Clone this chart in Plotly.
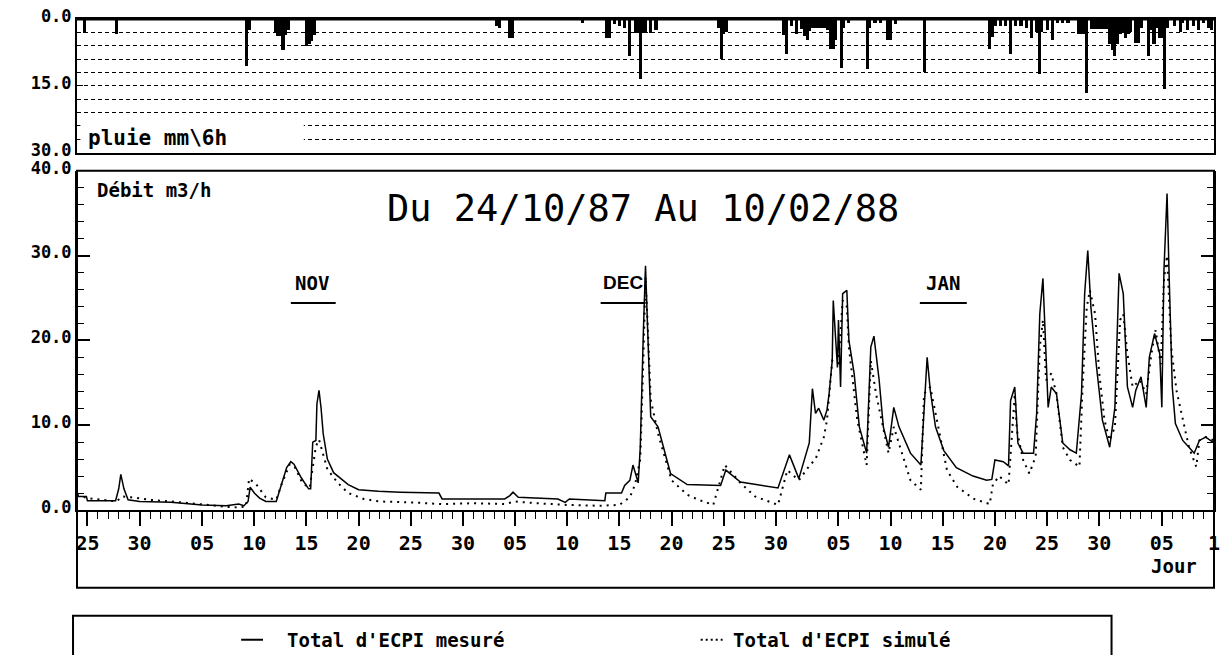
import plotly.graph_objects as go

# time axis: days since 24/10/87 00h
tick_days = [1, 6, 12, 17, 22, 27, 32, 37, 42, 47, 52, 57, 62, 67, 73, 78, 83, 88, 93, 98, 104, 109]
tick_text = ["25", "30", "05", "10", "15", "20", "25", "30", "05", "10", "15",
             "20", "25", "30", "05", "10", "15", "20", "25", "30", "05", "1"]

# rain, mm per 6h
rain_day = [0.75, 3.75, 16.25, 16.5, 19.0, 19.25, 19.5, 19.75, 20.0, 20.25, 22.0, 22.25, 22.5, 22.75,
            40.25, 40.5, 41.5, 41.75, 48.5, 50.75, 51.0, 51.5, 52.0, 52.5, 53.0, 53.5, 53.75, 54.0,
            54.25, 54.5, 55.0, 55.5, 61.5, 61.75, 62.0, 62.25, 67.75, 68.0, 68.5, 69.0, 69.5, 69.75,
            70.0, 70.25, 70.5, 70.75, 71.0, 71.25, 71.5, 71.75, 72.0, 72.25, 72.5, 72.75, 73.25, 73.5,
            74.0, 75.75, 76.0, 76.5, 77.0, 77.75, 78.0, 78.5, 81.25, 87.5, 87.75, 88.0, 88.5, 89.0,
            89.5, 90.0, 90.5, 91.0, 91.5, 92.0, 92.25, 92.5, 93.0, 93.5, 94.0, 94.5, 95.0, 96.0,
            96.25, 96.5, 96.75, 97.25, 97.5, 97.75, 98.0, 98.25, 98.5, 98.75, 99.0, 99.25, 99.5,
            99.75, 100.0, 100.25, 100.5, 100.75, 101.0, 101.5, 101.75, 102.0, 102.75, 103.0, 103.25,
            103.5, 103.75, 104.0, 104.25, 104.5, 105.25, 105.75, 106.0, 106.5, 107.0, 107.5, 108.0,
            108.5, 108.75]
rain_mm = [3.2, 3.4, 10.5, 2.5, 3.0, 3.8, 3.8, 7.0, 3.5, 2.5, 6.0, 5.5, 5.0, 3.5,
           1.5, 2.0, 4.2, 4.2, 0.8, 4.2, 4.2, 1.2, 1.5, 2.0, 8.3, 3.1, 3.1, 13.4,
           3.1, 3.1, 3.1, 2.5, 2.0, 9.0, 3.4, 3.0, 3.5, 7.9, 1.6, 3.4, 2.3, 3.8,
           4.6, 2.7, 2.0, 2.0, 2.0, 2.0, 2.0, 2.0, 2.5, 6.8, 6.8, 4.6, 10.9, 2.0,
           1.0, 11.2, 2.0, 1.0, 1.0, 4.6, 4.6, 1.2, 12.0, 6.8, 4.0, 1.5, 1.5, 1.5,
           7.9, 1.5, 1.5, 2.0, 4.2, 3.0, 12.4, 3.0, 2.5, 4.6, 1.0, 1.0, 1.0, 3.4,
           3.4, 3.4, 16.5, 2.2, 2.2, 2.2, 2.2, 2.2, 2.2, 2.2, 5.6, 7.0, 8.3,
           5.6, 3.4, 3.0, 4.2, 3.4, 3.0, 5.3, 5.3, 2.0, 8.3, 2.5, 5.6,
           2.0, 4.2, 4.2, 15.8, 2.0, 1.5, 3.0, 1.0, 2.5, 1.5, 2.5, 1.0,
           2.0, 2.5]

# measured flow m3/h
measured_day = [0, 0.9, 1.0, 3.7, 4.0, 4.2, 4.5, 4.9, 6.0, 9.0, 12.0, 14.3, 15.5, 16.0, 16.4, 16.6,
                17.0, 17.5, 18.1, 19.1, 19.6, 20.1, 20.5, 20.8, 21.5, 22.2, 22.4, 22.6, 22.9, 23.0,
                23.2, 23.4, 23.6, 24.0, 24.6, 25.2, 26.0, 27.0, 28.9, 31.0, 34.7, 35.0, 38.0, 41.0,
                41.5, 41.8, 42.3, 46.1, 46.8, 47.2, 50.6, 50.7, 52.2, 52.5, 53.0, 53.3, 53.8, 54.0,
                54.3, 54.5, 54.7, 55.0, 55.7, 56.9, 58.5, 61.7, 62.2, 63.6, 67.2, 68.3, 69.2, 70.2,
                70.5, 70.8, 71.1, 71.6, 71.9, 72.1, 72.4, 72.5, 72.9, 73.0, 73.2, 73.4, 73.8, 74.0,
                74.5, 75.0, 75.7, 76.1, 76.4, 76.9, 77.3, 77.8, 78.3, 78.8, 79.9, 80.9, 81.5, 81.8,
                82.3, 83.1, 84.3, 85.9, 87.2, 87.7, 88.0, 88.8, 89.3, 89.5, 89.9, 90.2, 90.7, 91.7,
                92.0, 92.3, 92.6, 92.9, 93.1, 93.4, 93.9, 94.5, 95.2, 95.8, 96.3, 96.6, 96.9, 97.2,
                97.7, 98.3, 99.0, 99.5, 99.9, 100.3, 100.7, 101.2, 101.5, 102.0, 102.5, 102.8, 103.3,
                103.8, 104.0, 104.2, 104.5, 104.7, 105.0, 105.3, 106.0, 106.6, 107.1, 107.6, 108.2, 109.0]
measured_flow = [1.6, 1.6, 1.1, 1.1, 2.5, 4.2, 2.5, 1.2, 1.0, 0.9, 0.6, 0.5, 0.7, 0.5, 1.0, 2.7,
                 2.0, 1.4, 1.0, 1.0, 3.0, 5.0, 5.7, 5.4, 3.8, 2.5, 2.5, 8.0, 8.2, 12.5,
                 14.1, 12.0, 9.0, 6.0, 4.4, 3.8, 3.0, 2.4, 2.2, 2.1, 2.0, 1.3, 1.3, 1.3,
                 1.7, 2.1, 1.5, 1.3, 0.9, 1.3, 1.1, 2.0, 2.0, 2.9, 3.5, 5.3, 3.2, 7.4,
                 21.2, 28.8, 21.5, 11.0, 9.8, 4.3, 3.0, 2.9, 4.7, 3.3, 2.6, 6.5, 3.7, 7.9,
                 14.3, 11.4, 12.0, 10.6, 11.8, 13.7, 17.6, 24.7, 16.8, 22.4, 14.5, 25.5, 25.9, 20.0,
                 16.1, 9.8, 6.7, 19.2, 20.5, 15.3, 9.8, 7.4, 12.1, 9.8, 6.7, 5.3, 18.0, 14.1,
                 9.8, 7.0, 5.0, 4.0, 3.5, 3.6, 5.9, 5.7, 5.2, 12.9, 14.5, 7.9, 6.7, 6.7,
                 11.4, 23.1, 27.3, 17.6, 12.1, 14.5, 13.7, 7.9, 7.1, 6.7, 13.7, 25.5, 30.6, 23.9,
                 17.3, 10.6, 7.4, 12.1, 27.9, 25.5, 14.5, 12.1, 14.1, 15.7, 12.1, 18.0, 20.8,
                 18.4, 12.1, 28.2, 37.3, 27.5, 14.5, 10.2, 8.2, 7.4, 6.7, 8.2, 8.6, 7.9]

# simulated flow m3/h
simulated_day = [0, 1.0, 3.8, 4.3, 5.2, 7.0, 10.0, 13.0, 15.0, 16.2, 16.5, 17.2, 18.1, 19.1, 19.6,
                 20.4, 20.9, 21.6, 22.3, 22.6, 22.9, 23.2, 23.5, 24.0, 25.0, 26.0, 27.5, 29.0, 32.0,
                 35.0, 38.0, 41.0, 42.0, 44.0, 47.0, 50.0, 52.0, 53.0, 53.5, 54.0, 54.3, 54.5, 54.7,
                 55.0, 55.7, 57.0, 58.5, 59.6, 61.0, 62.1, 63.6, 65.0, 67.2, 68.1, 69.2, 70.2, 70.8,
                 71.6, 71.9, 72.4, 73.0, 73.4, 73.8, 74.0, 74.8, 75.7, 76.1, 76.6, 77.8, 78.3, 79.9,
                 80.9, 81.2, 81.8, 83.4, 84.4, 86.0, 87.5, 87.8, 88.4, 89.3, 89.6, 89.9, 90.1, 90.7,
                 91.3, 91.9, 92.3, 92.6, 92.9, 93.4, 93.9, 94.5, 95.2, 96.1, 96.4, 96.8, 97.1, 97.6,
                 98.0, 98.5, 99.0, 99.5, 100.0, 100.3, 100.7, 101.2, 101.9, 102.5, 103.0, 103.4,
                 103.9, 104.2, 104.5, 104.9, 105.4, 106.0, 106.6, 107.3, 107.6, 108.2, 109.0]
simulated_flow = [1.8, 1.4, 1.0, 1.6, 1.5, 1.2, 0.9, 0.5, 0.3, 0.4, 3.7, 3.0, 1.5, 1.2, 3.0,
                  5.4, 5.0, 3.2, 2.6, 5.0, 7.5, 8.3, 7.0, 4.8, 3.2, 2.0, 1.3, 1.0, 0.9,
                  0.7, 0.8, 0.7, 1.0, 0.8, 0.6, 0.5, 0.6, 1.5, 3.0, 6.0, 18.0, 27.5, 22.0,
                  13.0, 9.0, 3.5, 1.8, 1.2, 0.6, 5.3, 3.2, 1.6, 0.6, 4.7, 3.5, 5.2, 6.0,
                  8.6, 10.6, 17.6, 17.3, 24.7, 24.0, 19.2, 10.6, 5.3, 17.6, 13.7, 6.7, 9.8, 3.5,
                  2.4, 13.7, 14.5, 4.7, 2.7, 1.3, 0.7, 3.0, 4.0, 3.0, 8.2, 13.7, 9.4, 5.9,
                  4.3, 6.3, 19.2, 22.4, 15.3, 16.1, 13.7, 7.4, 5.9, 5.1, 14.5, 23.9, 25.9, 23.1,
                  16.1, 10.6, 8.2, 9.8, 22.4, 23.1, 18.4, 14.5, 15.3, 13.7, 18.4, 21.2,
                  17.2, 27.1, 30.0, 19.2, 14.1, 10.6, 7.4, 5.1, 8.2, 8.6, 8.2]

mono = "DejaVu Sans Mono"

fig = go.Figure()

fig.add_trace(go.Bar(x=rain_day, y=rain_mm, xaxis='x2', yaxis='y2', width=0.3,
                     marker=dict(color='black', line=dict(width=0)), showlegend=False))
fig.add_trace(go.Scatter(x=measured_day, y=measured_flow, mode='lines',
                         line=dict(color='black', width=1.5), showlegend=False))
fig.add_trace(go.Scatter(x=simulated_day, y=simulated_flow, mode='lines',
                         line=dict(color='black', width=2, dash='2px,5px'), showlegend=False))

top_lo = (510 - 152) / 492
bot_hi = (510 - 170) / 492
tickf = dict(family=mono, size=17, color='black', weight='bold')

fig.update_layout(
    width=1226, height=655,
    margin=dict(l=77, r=6, t=18, b=145),
    plot_bgcolor='white', paper_bgcolor='white',
    bargap=0,
    xaxis=dict(domain=[0, 1], range=[0, 109], anchor='y',
               tickmode='array', tickvals=tick_days, ticktext=tick_text,
               ticks='outside', ticklen=14, tickwidth=1.5, tickcolor='black',
               showline=True, linecolor='black', linewidth=2,
               showgrid=False, zeroline=False,
               tickfont=dict(family=mono, size=20, color='black', weight='bold'),
               minor=dict(dtick=1, tick0=0, ticks='outside', ticklen=7,
                          tickcolor='black', tickwidth=1, showgrid=False)),
    yaxis=dict(domain=[0, bot_hi], range=[0, 40], anchor='x',
               tickmode='array', tickvals=[0, 10, 20, 30, 40],
               ticktext=["0.0", "10.0", "20.0", "30.0", "40.0"],
               ticks='inside', ticklen=13, tickwidth=1.5, tickcolor='black',
               showline=True, linecolor='black', linewidth=2, mirror='ticks',
               showgrid=False, zeroline=False, tickfont=tickf, ticklabelshift=-3,
               minor=dict(dtick=2, tick0=0, ticks='inside', ticklen=7,
                          tickcolor='black', tickwidth=1, showgrid=False)),
    xaxis2=dict(domain=[0, 1], range=[0, 109], anchor='y2',
                showticklabels=False, ticks='',
                showline=True, linecolor='black', linewidth=1.5, mirror=True,
                showgrid=False, zeroline=False),
    yaxis2=dict(domain=[top_lo, 1], range=[30, 0], anchor='x2',
                tickmode='array', tickvals=[0, 15, 30],
                ticktext=["0.0", "15.0", "30.0"],
                ticks='inside', ticklen=6, tickcolor='black',
                showline=True, linecolor='black', linewidth=2, mirror=True,
                showgrid=True, gridcolor='black', gridwidth=1, griddash='4px,3px',
                zeroline=False, tickfont=tickf, ticklabelshift=3,
                minor=dict(dtick=3, tick0=0, showgrid=True, gridcolor='black',
                           gridwidth=1, griddash='4px,3px', ticks='')),
)

leg_y = -(640 - 510) / 492
shapes = [
    # heavy top edge of rain panel
    dict(type='line', xref='paper', yref='paper', x0=0, x1=1, y0=1, y1=1,
         line=dict(color='black', width=3)),
    # frame of the flow panel, extending under the day labels
    dict(type='rect', xref='paper', yref='paper', x0=0, x1=1, y0=-(588 - 510) / 492, y1=bot_hi,
         line=dict(color='black', width=2)),
    # blank behind the rain label
    dict(type='rect', xref='paper', yref='y2', x0=0.003, x1=(305 - 77) / 1143, y0=22.4, y1=29.7,
         fillcolor='white', line=dict(width=0), layer='above'),
    # month underlines
    dict(type='line', xref='x', yref='y', x0=20.5, x1=24.8, y0=24.4, y1=24.4,
         line=dict(color='black', width=2)),
    dict(type='line', xref='x', yref='y', x0=50.2, x1=54.5, y0=24.4, y1=24.4,
         line=dict(color='black', width=2)),
    dict(type='line', xref='x', yref='y', x0=80.8, x1=85.3, y0=24.4, y1=24.4,
         line=dict(color='black', width=2)),
    # legend box
    dict(type='rect', xref='paper', yref='paper', x0=(73 - 77) / 1143, x1=(1117 - 77) / 1143,
         y0=-0.36, y1=-(616 - 510) / 492, line=dict(color='black', width=2)),
    dict(type='line', xref='paper', yref='paper', x0=(242 - 77) / 1143, x1=(264 - 77) / 1143,
         y0=leg_y, y1=leg_y, line=dict(color='black', width=2)),
    dict(type='line', xref='paper', yref='paper', x0=(704 - 77) / 1143, x1=(726 - 77) / 1143,
         y0=leg_y, y1=leg_y, line=dict(color='black', width=2, dash='2px,3px')),
]

bold = dict(family=mono, size=19, color='black', weight='bold')
annotations = [
    dict(text="Du 24/10/87 Au 10/02/88", xref='paper', yref='y', x=(646 - 77) / 1143, y=35.6,
         xanchor='center', yanchor='middle', showarrow=False,
         font=dict(family=mono, size=37, color='black')),
    dict(text="Débit m3/h", xref='paper', yref='y', x=(95 - 77) / 1143, y=37.7,
         xanchor='left', yanchor='middle', showarrow=False, font=bold),
    dict(text="pluie mm\\6h", xref='paper', yref='y2', x=(86 - 77) / 1143, y=26.6,
         xanchor='left', yanchor='middle', showarrow=False,
         font=dict(family=mono, size=21, color='black', weight='bold')),
    dict(text="NOV", xref='x', yref='y', x=22.5, y=26.8, showarrow=False, font=bold),
    dict(text="DEC", xref='x', yref='y', x=52.3, y=26.8, showarrow=False,
         font=dict(family="Liberation Sans", size=19, color='black', weight='bold')),
    dict(text="JAN", xref='x', yref='y', x=83.0, y=26.8, showarrow=False, font=bold),
    dict(text="Jour", xref='paper', yref='paper', x=(1180 - 77) / 1143, y=-(566 - 510) / 492,
         xanchor='center', yanchor='middle', showarrow=False, font=bold),
    dict(text="Total d'ECPI mesuré", xref='paper', yref='paper', x=(286 - 77) / 1143,
         y=leg_y, xanchor='left', yanchor='middle', showarrow=False, font=bold),
    dict(text="Total d'ECPI simulé", xref='paper', yref='paper', x=(734 - 77) / 1143,
         y=leg_y, xanchor='left', yanchor='middle', showarrow=False, font=bold),
]

fig.update_layout(shapes=shapes, annotations=annotations)

fig.write_html("out.html", config={'displayModeBar': False},
               post_script="document.body.style.margin='0';")
